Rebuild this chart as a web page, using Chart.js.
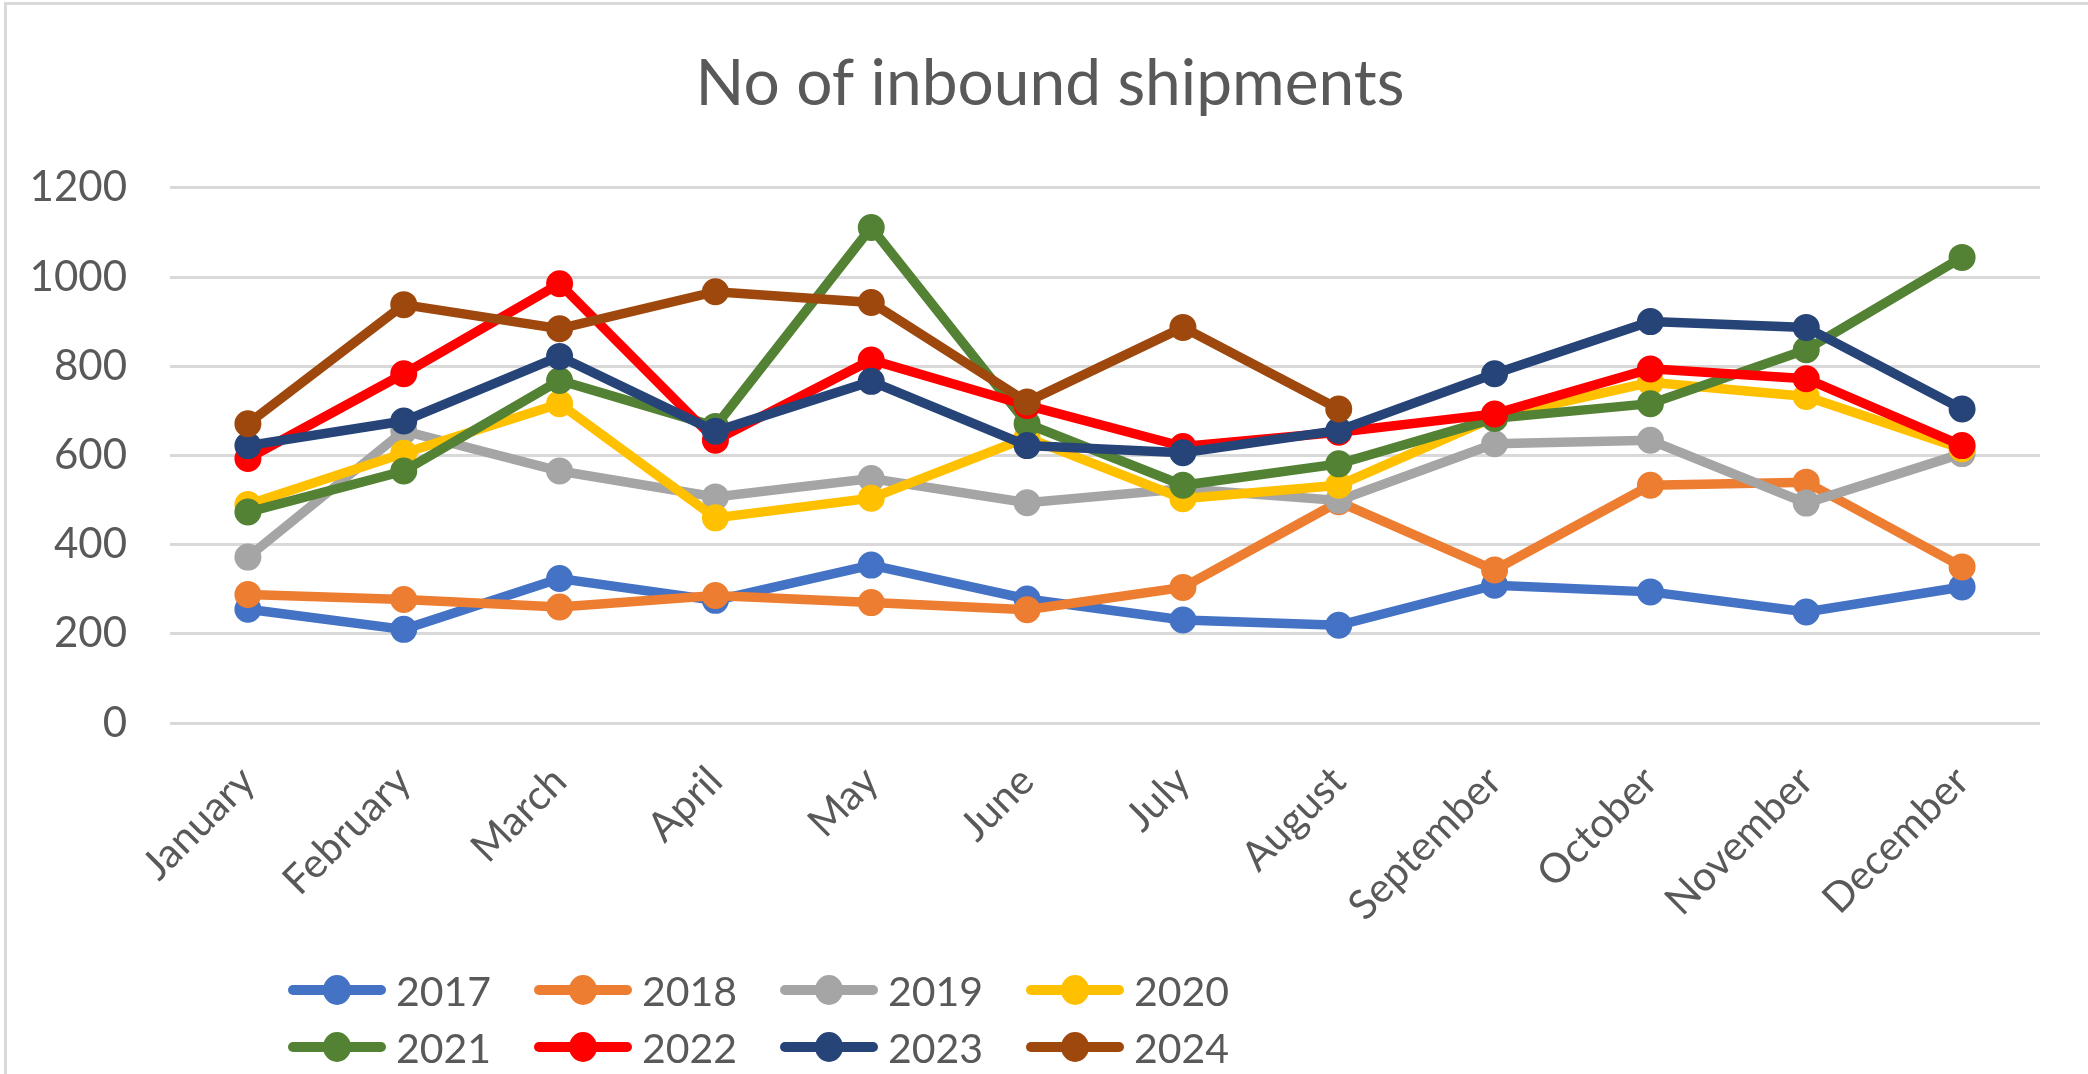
<!DOCTYPE html>
<html>
<head>
<meta charset="utf-8">
<script src="https://cdn.jsdelivr.net/npm/chart.js@4.4.0/dist/chart.umd.min.js"></script>
<style>
  html, body { margin: 0; padding: 0; background: #ffffff; }
  #wrap { position: relative; width: 2088px; height: 1074px; overflow: hidden; background: #fff; }
  #chartBox { position: absolute; left: 0; top: 0; width: 2088px; height: 1074px; }
  .bTop { position: absolute; left: 4px; top: 2px; width: 2084px; height: 3px; background: #D9D9D9; }
  .bLeft { position: absolute; left: 4px; top: 2px; width: 3px; height: 1072px; background: #D9D9D9; }
  #legend { position: absolute; left: 0; top: 0; width: 2088px; height: 1074px; pointer-events: none; }
  .item { position: absolute; display: flex; align-items: center; height: 44px;
          font-family: Lato, "Open Sans", sans-serif; font-size: 41px; color: #595959; }
  .item svg { margin-right: 10px; }
</style>
</head>
<body>
<div id="wrap">
  <div id="chartBox"><canvas id="c"></canvas></div>
  <div class="bTop"></div>
  <div class="bLeft"></div>
  <div id="legend"></div>
</div>
<script>
const months = ["January","February","March","April","May","June","July","August","September","October","November","December"];
const seriesNames = ["2017","2018","2019","2020","2021","2022","2023","2024"];
const s2017 = [255, 210, 324, 275, 354, 278, 231, 219, 309, 294, 249, 305];
const s2018 = [288, 277, 260, 286, 270, 254, 304, 496, 343, 533, 540, 350];
const s2019 = [372, 655, 565, 507, 548, 494, 525, 499, 626, 634, 493, 604];
const s2020 = [490, 605, 716, 460, 504, 640, 503, 533, 686, 764, 732, 615];
const s2021 = [473, 565, 768, 665, 1111, 671, 533, 581, 683, 716, 837, 1044];
const s2022 = [593, 783, 985, 634, 814, 712, 620, 652, 693, 794, 772, 622];
const s2023 = [622, 677, 822, 654, 766, 622, 606, 656, 783, 900, 887, 704];
const s2024 = [671, 938, 884, 967, 943, 720, 887, 704, null, null, null, null];
const yTicks = [0, 200, 400, 600, 800, 1000, 1200];
const yTickLabels = ["0", "200", "400", "600", "800", "1000", "1200"];
const titleText = "No of inbound shipments";

const allSeries = [s2017, s2018, s2019, s2020, s2021, s2022, s2023, s2024];
const colors = ["#4472C4", "#ED7D31", "#A5A5A5", "#FFC000", "#548235", "#FF0000", "#264478", "#9E480E"];

const datasets = allSeries.map((d, i) => ({
  label: seriesNames[i],
  data: d,
  borderColor: colors[i],
  backgroundColor: colors[i],
  pointBackgroundColor: colors[i],
  pointBorderColor: colors[i],
  borderWidth: 9.5,
  pointRadius: 12,
  pointBorderWidth: 3,
  tension: 0,
  spanGaps: false,
  order: allSeries.length - 1 - i
}));

const FONT = 'Lato, "Open Sans", sans-serif';

// shift the title box so it is centred like the original (which is offset to the right)
const titleShift = {
  id: 'titleShift',
  afterLayout(chart) {
    const t = chart.titleBlock;
    if (t) { t.left += 60; t.right = t.left + t.width - 60; t.width -= 60; }
  }
};

new Chart(document.getElementById('c'), {
  type: 'line',
  data: { labels: months, datasets: datasets },
  plugins: [titleShift],
  options: {
    responsive: true,
    maintainAspectRatio: false,
    animation: false,
    events: [],
    layout: { padding: { left: 0, right: 48, top: 0, bottom: 0 } },
    plugins: {
      legend: { display: false },
      tooltip: { enabled: false },
      title: {
        display: true,
        text: titleText,
        color: '#595959',
        font: { family: FONT, size: 64, weight: 'normal' },
        padding: { top: 46, bottom: 65 }
      }
    },
    scales: {
      x: {
        offset: true,
        grid: { display: false, drawTicks: false },
        border: { display: false },
        ticks: {
          color: '#595959',
          font: { family: FONT, size: 41 },
          minRotation: 45,
          maxRotation: 45,
          autoSkip: false,
          padding: 34
        },
        afterFit: (scale) => { scale.height = 351; }
      },
      y: {
        min: 0,
        max: 1200,
        afterBuildTicks: (scale) => { scale.ticks = yTicks.map(v => ({ value: v })); },
        grid: { color: '#D9D9D9', lineWidth: 3, drawTicks: false },
        border: { display: false },
        ticks: {
          color: '#595959',
          font: { family: FONT, size: 42 },
          padding: 43,
          callback: (value) => {
            const k = yTicks.indexOf(value);
            return k >= 0 ? yTickLabels[k] : String(value);
          }
        },
        afterFit: (scale) => { scale.width = 170; }
      }
    }
  }
});

// Legend built from the series names and colours
const legend = document.getElementById('legend');
seriesNames.forEach((name, i) => {
  const col = i % 4, row = Math.floor(i / 4);
  const div = document.createElement('div');
  div.className = 'item';
  div.style.left = (288 + col * 246) + 'px';
  div.style.top = (968 + row * 57) + 'px';
  const svgNS = 'http://www.w3.org/2000/svg';
  const svg = document.createElementNS(svgNS, 'svg');
  svg.setAttribute('width', '98');
  svg.setAttribute('height', '32');
  const line = document.createElementNS(svgNS, 'line');
  line.setAttribute('x1', '5'); line.setAttribute('y1', '16');
  line.setAttribute('x2', '93'); line.setAttribute('y2', '16');
  line.setAttribute('stroke', colors[i]); line.setAttribute('stroke-width', '10');
  line.setAttribute('stroke-linecap', 'round');
  const circ = document.createElementNS(svgNS, 'ellipse');
  circ.setAttribute('cx', '49'); circ.setAttribute('cy', '16');
  circ.setAttribute('rx', '14'); circ.setAttribute('ry', '15');
  circ.setAttribute('fill', colors[i]);
  svg.appendChild(line); svg.appendChild(circ);
  const span = document.createElement('span');
  span.textContent = name;
  div.appendChild(svg); div.appendChild(span);
  legend.appendChild(div);
});
</script>
</body>
</html>
